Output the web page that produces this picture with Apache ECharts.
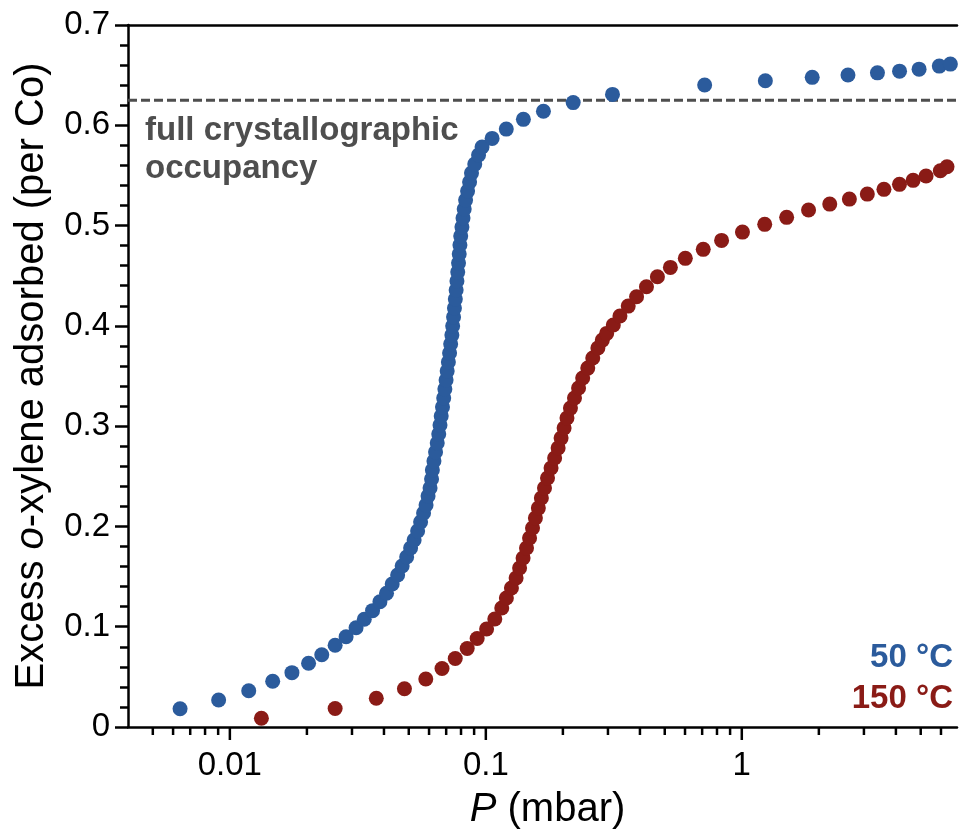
<!DOCTYPE html>
<html><head><meta charset="utf-8">
<script src="https://cdn.jsdelivr.net/npm/echarts@6/dist/echarts.min.js"></script>
<style>html,body{margin:0;padding:0;background:#fff}#c{width:960px;height:837px}</style>
</head><body><div id="c"></div>
<script>
// 50 °C isotherm: pressure (mbar) and excess o-xylene adsorbed (per Co)
const blueP = [0.00639, 0.00904, 0.01185, 0.0147, 0.01748, 0.0203, 0.02286, 0.02578, 0.02845, 0.03112, 0.03351, 0.0361,
  0.03857, 0.04093, 0.04307, 0.04524, 0.04711, 0.04906, 0.05083, 0.05246, 0.05414, 0.05561, 0.05712, 0.05841, 0.05947, 0.06055, 0.06137,
  0.06182, 0.06271, 0.06362, 0.06459, 0.06547, 0.06622, 0.06694, 0.06772, 0.06846, 0.06918, 0.06994, 0.07063, 0.0714, 0.07218, 0.07288,
  0.07367, 0.0742, 0.0748, 0.0754, 0.07601, 0.07656, 0.07712, 0.07767, 0.07823, 0.07872, 0.07921, 0.07978, 0.08065, 0.08145, 0.08233,
  0.08336, 0.08487, 0.08641, 0.0879, 0.09052, 0.09366, 0.09665,
  0.1058, 0.1202, 0.1402, 0.1679, 0.2194, 0.3125, 0.716, 1.236, 1.884, 2.599, 3.388, 4.133, 4.927, 5.909, 6.529];
const blueQ = [0.0182, 0.0269, 0.0362, 0.0456, 0.0542, 0.0636, 0.0721, 0.0815, 0.0900, 0.0990, 0.1074, 0.1160,
  0.1249, 0.1333, 0.1426, 0.1515, 0.1605, 0.1695, 0.1785, 0.1864, 0.1954, 0.2044, 0.2134, 0.2213, 0.2303, 0.2383, 0.2473,
  0.2562, 0.2652, 0.2742, 0.2832, 0.2921, 0.3011, 0.3101, 0.3190, 0.3280, 0.3370, 0.3460, 0.3549, 0.3639, 0.3729, 0.3819,
  0.3908, 0.3998, 0.4088, 0.4177, 0.4267, 0.4357, 0.4447, 0.4536, 0.4626, 0.4716, 0.4806, 0.4895, 0.4985, 0.5075, 0.5165,
  0.5254, 0.5344, 0.5434, 0.5523, 0.5613, 0.5703, 0.5783,
  0.5869, 0.5962, 0.6059, 0.6140, 0.6226, 0.6308, 0.6401, 0.6444, 0.6478, 0.6501, 0.6523, 0.6540, 0.6560, 0.6590, 0.6610];
// 150 °C isotherm
const redP = [0.01328, 0.02578, 0.03733, 0.04809, 0.05827, 0.06743, 0.07595, 0.08456, 0.09249, 0.1007, 0.1084,
  0.1154, 0.1203, 0.1259, 0.1313, 0.1355, 0.1398, 0.1442, 0.1482, 0.1522, 0.1562, 0.1604, 0.1648, 0.1695, 0.1742,
  0.1798, 0.1857, 0.1916, 0.1968, 0.2022, 0.2075, 0.2141, 0.2220, 0.2303, 0.2390, 0.2502, 0.2617, 0.2740, 0.2852,
  0.2965, 0.3148, 0.3342, 0.3600, 0.3880, 0.4242, 0.4681, 0.5260, 0.6016, 0.7069, 0.8337,
  1.006, 1.229, 1.497, 1.823, 2.206, 2.632, 3.093, 3.592, 4.130, 4.670, 5.246, 5.965, 6.334];
const redQ = [0.0087, 0.0184, 0.0286, 0.0382, 0.0479, 0.0583, 0.0683, 0.0783, 0.0882, 0.0977, 0.1077,
  0.1186, 0.1286, 0.1386, 0.1486, 0.1585, 0.1685, 0.1785, 0.1884, 0.1984, 0.2084, 0.2183, 0.2283, 0.2383, 0.2483,
  0.2582, 0.2682, 0.2782, 0.2881, 0.2981, 0.3081, 0.3180, 0.3280, 0.3380, 0.3480, 0.3579, 0.3679, 0.3779, 0.3858,
  0.3925, 0.4008, 0.4098, 0.4197, 0.4290, 0.4390, 0.4490, 0.4583, 0.4673, 0.4763, 0.4852,
  0.4935, 0.5012, 0.5082, 0.5155, 0.5214, 0.5264, 0.5314, 0.5361, 0.5411, 0.5451, 0.5494, 0.5546, 0.5586];

const fullOccupancy = 0.625;
const xMin = 0.004, xMax = 6.93;
const xMajorTicks = [0.01, 0.1, 1];
const xMajorLabels = ['0.01', '0.1', '1'];
const xMinorTicks = [0.005, 0.006, 0.007, 0.008, 0.009,
  0.02, 0.03, 0.04, 0.05, 0.06, 0.07, 0.08, 0.09,
  0.2, 0.3, 0.4, 0.5, 0.6, 0.7, 0.8, 0.9,
  2, 3, 4, 5, 6];
const yMin = 0, yMax = 0.7, yInterval = 0.1;

const FONT = "'Liberation Sans', Arial, Helvetica, sans-serif";
const BLUE = '#2B5B9C', RED = '#8A1B16', GRAY = '#4E4E4E';

const xTickData = xMajorTicks.map(v => [v, 0, 1]).concat(xMinorTicks.map(v => [v, 0, 0]));

function titleStyle(extra) {
  return Object.assign({fontFamily: FONT, fontSize: 40, color: '#000',
    rich: {i: {fontStyle: 'italic', fontSize: 40, fontFamily: FONT, color: '#000'},
           n: {fontSize: 40, fontFamily: FONT, color: '#000'}}}, extra || {});
}

const chart = echarts.init(document.getElementById('c'), null, {renderer: 'canvas'});
chart.setOption({
  animation: false,
  backgroundColor: '#fff',
  grid: {left: 128, right: 0, top: 25, bottom: 110, containLabel: false},
  xAxis: [{
    type: 'log', logBase: 10, min: xMin, max: xMax,
    name: '{i|P}{n| (mbar)}', nameLocation: 'middle', nameGap: 63,
    nameTextStyle: titleStyle({padding: [0, 0, 0, 10]}),
    axisLine: {onZero: false, lineStyle: {color: '#000', width: 2.5}},
    axisTick: {show: false},
    minorTick: {show: false},
    splitLine: {show: false},
    axisLabel: {
      fontFamily: FONT, fontSize: 33, color: '#000', margin: 22,
      showMinLabel: true, showMaxLabel: true,
      formatter: function (v) {
        for (let i = 0; i < xMajorTicks.length; i++) {
          if (Math.abs(Math.log10(v) - Math.log10(xMajorTicks[i])) < 1e-6) return xMajorLabels[i];
        }
        return '';
      }
    }
  }, {
    type: 'value', position: 'top', min: 0, max: 1,
    axisLine: {onZero: false, lineStyle: {color: '#000', width: 2.5}},
    axisTick: {show: false}, axisLabel: {show: false}, splitLine: {show: false}
  }],
  yAxis: {
    type: 'value', min: yMin, max: yMax, interval: yInterval,
    name: '{n|Excess }{i|o}{n|-xylene adsorbed (per Co)}',
    nameLocation: 'middle', nameRotate: 90, nameGap: 76,
    nameTextStyle: titleStyle(),
    axisLine: {onZero: false, lineStyle: {color: '#000', width: 2.5}},
    axisTick: {show: true, inside: false, length: 13, lineStyle: {color: '#000', width: 2.5}},
    minorTick: {show: true, splitNumber: 5, length: 8, lineStyle: {color: '#000', width: 2.5}},
    splitLine: {show: false},
    axisLabel: {fontFamily: FONT, fontSize: 33, color: '#000', margin: 18,
      formatter: v => (Math.abs(v) < 1e-9 ? '0' : v.toFixed(1))}
  },
  series: [{
    type: 'line', name: 'full crystallographic occupancy', silent: true, symbol: 'none',
    data: [[xMin, fullOccupancy], [xMax, fullOccupancy]],
    lineStyle: {color: GRAY, width: 3, type: [9, 4]},
    z: 2
  }, {
    type: 'scatter', name: '50 °C', symbol: 'circle', symbolSize: 15,
    itemStyle: {color: BLUE, opacity: 1},
    data: blueP.map((p, i) => [p, blueQ[i]]),
    z: 3
  }, {
    type: 'scatter', name: '150 °C', symbol: 'circle', symbolSize: 15,
    itemStyle: {color: RED, opacity: 1},
    data: redP.map((p, i) => [p, redQ[i]]),
    z: 3
  }, {
    type: 'custom', coordinateSystem: 'cartesian2d', silent: true, clip: false, z: 5,
    encode: {x: 0, y: 1},
    data: xTickData,
    renderItem: function (params, api) {
      const p = api.coord([api.value(0), 0]);
      const len = api.value(2) ? 13 : 8;
      return {type: 'line', shape: {x1: p[0], y1: p[1], x2: p[0], y2: p[1] + len},
        style: {stroke: '#000', lineWidth: 2.5}};
    }
  }],
  graphic: [
    {type: 'text', x: 145, y: 131, silent: true,
      style: {text: 'full crystallographic', fill: GRAY, fontFamily: FONT, fontWeight: 'bold', fontSize: 33, verticalAlign: 'middle', align: 'left'}},
    {type: 'text', x: 145, y: 169, silent: true,
      style: {text: 'occupancy', fill: GRAY, fontFamily: FONT, fontWeight: 'bold', fontSize: 33, verticalAlign: 'middle', align: 'left'}},
    {type: 'text', x: 953, y: 658, silent: true,
      style: {text: '50 °C', fill: BLUE, fontFamily: FONT, fontWeight: 'bold', fontSize: 33, verticalAlign: 'middle', align: 'right'}},
    {type: 'text', x: 953, y: 699, silent: true,
      style: {text: '150 °C', fill: RED, fontFamily: FONT, fontWeight: 'bold', fontSize: 33, verticalAlign: 'middle', align: 'right'}}
  ]
});
</script>
</body></html>
